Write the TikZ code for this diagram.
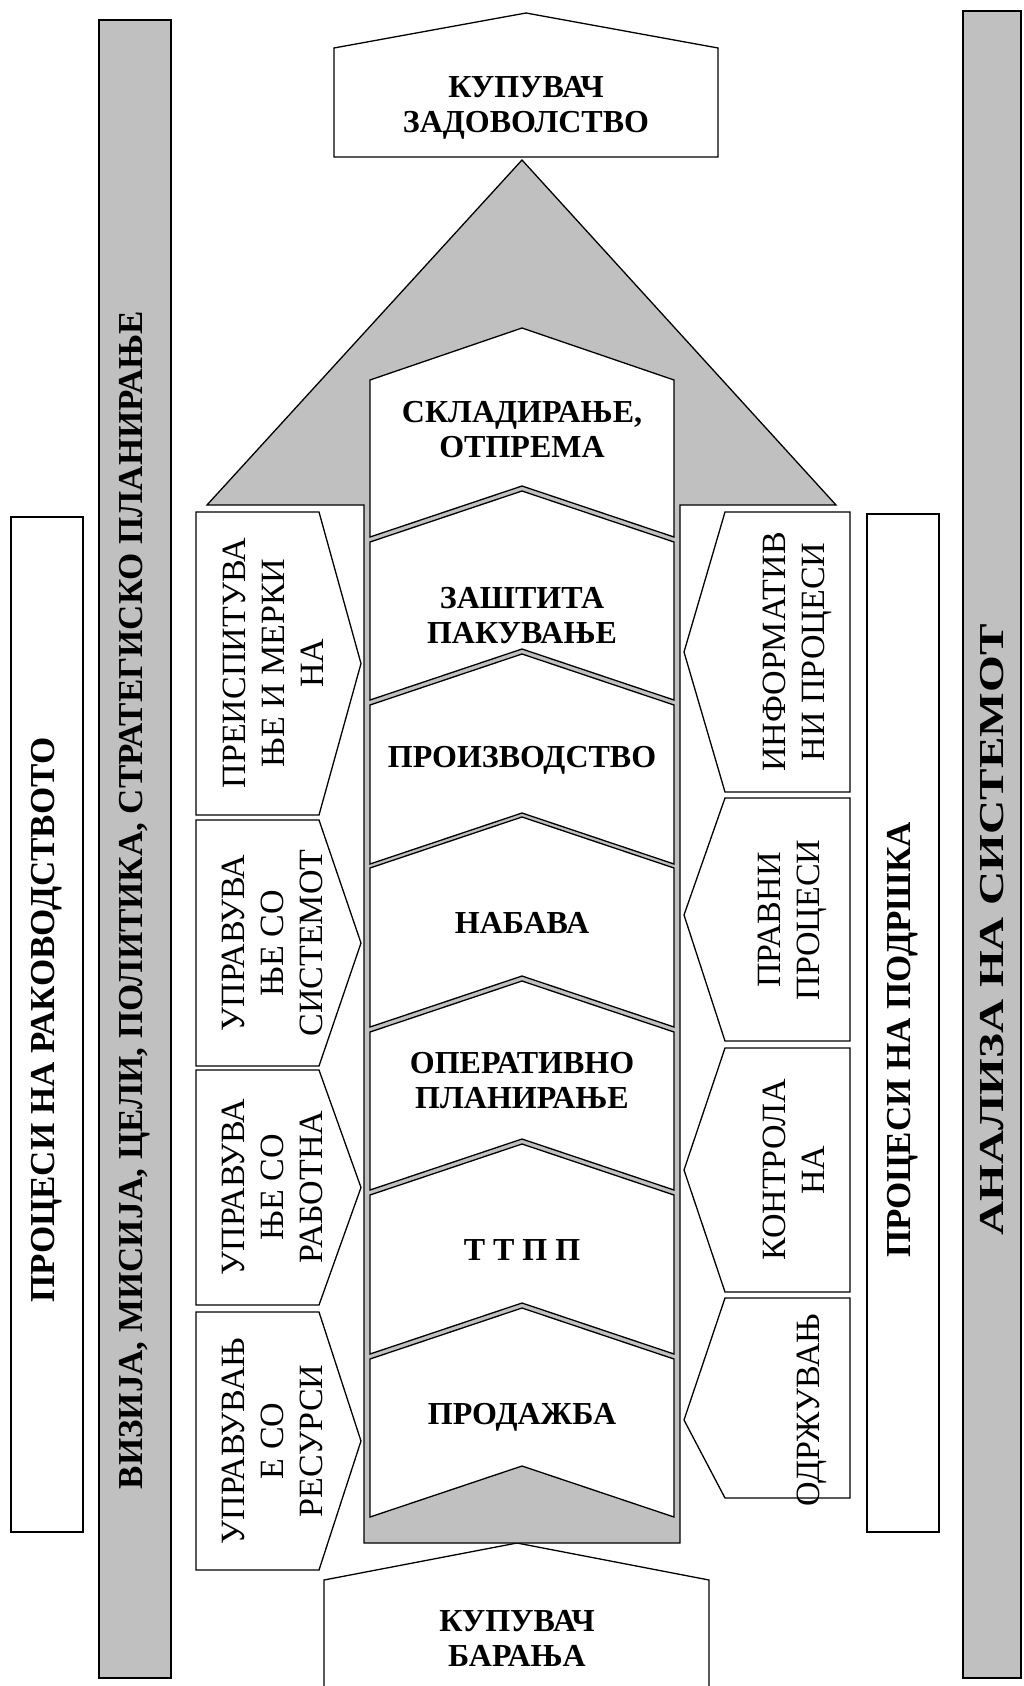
\documentclass[tikz,border=0pt]{standalone}
\usepackage{fontspec}
\setmainfont{Liberation Serif}
\usetikzlibrary{positioning}

\definecolor{panelgrey}{RGB}{192,192,192}
\tikzset{
  outline/.style={draw=black, line width=1.3pt, line join=miter},
  heavyline/.style={draw=black, line width=1.8pt},
  blocktext/.style={font=\bfseries\fontsize{32}{35}\selectfont, align=center, inner sep=0pt},
  bartext/.style={font=\bfseries\fontsize{35}{40}\selectfont, rotate=90, inner sep=0pt},
  arrowtext/.style={font=\fontsize{34}{39}\selectfont, rotate=90, align=center, inner sep=0pt},
}

\begin{document}
\begin{tikzpicture}[x=1pt,y=-1pt]
    \useasboundingbox (0,0) rectangle (1024,1686);

    % Outer bars
    \draw[heavyline, fill=white] (11,517) rectangle (83,1532);
    \node[bartext] (lead) at (47,1020) {ПРОЦЕСИ НА РАКОВОДСТВОТО};
    \draw[heavyline, fill=panelgrey] (99,20) rectangle (171,1678);
    \node[bartext] (vision) at (135,900) {ВИЗИЈА, МИСИЈА, ЦЕЛИ, ПОЛИТИКА, СТРАТЕГИСКО ПЛАНИРАЊЕ};
    \draw[heavyline, fill=white] (867,514) rectangle (939,1532);
    \node[bartext] (support) at (903,1040) {ПРОЦЕСИ НА ПОДРШКА};
    \draw[heavyline, fill=panelgrey] (963,11) rectangle (1021,1678);
    \node[bartext, xscale=1.35] (analysis) at (992,930) {АНАЛИЗА НА СИСТЕМОТ};

    % Customer boxes
    \draw[outline, fill=white] (334,157) -- (334,48) -- (526,13) -- (718,48) -- (718,157) -- cycle;
    \node[blocktext] (goal) at (526,108) {КУПУВАЧ\\ЗАДОВОЛСТВО};
    \draw[outline, fill=white] (324,1700) -- (324,1580) -- (517,1543) -- (709,1580) -- (709,1700);
    \node[blocktext] (need) at (517,1638) {КУПУВАЧ\\БАРАЊА};

    % Big arrow
    \draw[outline, fill=panelgrey] (522,160) -- (836,505) -- (680,505) -- (680,1543)
        -- (364,1543) -- (364,505) -- (207,505) -- cycle;

    % Process chevrons
    \draw[outline, fill=white] (370,380) -- (522,328) -- (674,380) -- (674,537) -- (522,486) -- (370,537) -- cycle;
    \foreach \t/\b in {542/700, 705/864, 868/1027, 1032/1190, 1195/1354, 1359/1517} {
        \draw[outline, fill=white] (370,\t) -- (522,\t-51) -- (674,\t) -- (674,\b) -- (522,\b-51) -- (370,\b) -- cycle;
    }
    \node[blocktext] (store) at (522,430) {СКЛАДИРАЊЕ,\\ОТПРЕМА};
    \node[blocktext] (pack) at (522,616) {ЗАШТИТА\\ПАКУВАЊЕ};
    \node[blocktext] (prod) at (522,760) {ПРОИЗВОДСТВО};
    \node[blocktext] (supply) at (522,923) {НАБАВА};
    \node[blocktext] (plan) at (522,1081) {ОПЕРАТИВНО\\ПЛАНИРАЊЕ};
    \node[blocktext] (ttpp) at (522,1250) {Т Т П П};
    \node[blocktext] (sales) at (522,1417) {ПРОДАЖБА};

    % Management arrows (left)
    \foreach \a/\b in {512/815, 820/1066, 1070/1305, 1312/1570} {
        \draw[outline, fill=white] (196,\a) -- (319,\a) -- (361,{(\a+\b)/2}) -- (319,\b) -- (196,\b) -- cycle;
    }
    \node[arrowtext] (review) at (273,663) {ПРЕИСПИТУВА\\ЊЕ И МЕРКИ\\НА};
    \node[arrowtext] (system) at (272,943) {УПРАВУВА\\ЊЕ СО\\СИСТЕМОТ};
    \node[arrowtext] (work) at (272,1187) {УПРАВУВА\\ЊЕ СО\\РАБОТНА};
    \node[arrowtext] (resource) at (272,1441) {УПРАВУВАЊ\\Е СО\\РЕСУРСИ};

    % Support arrows (right)
    \foreach \a/\m/\b in {512/652/792, 798/915/1041, 1048/1170/1292, 1298/1420/1498} {
        \draw[outline, fill=white] (850,\a) -- (725,\a) -- (684,\m) -- (725,\b) -- (850,\b) -- cycle;
    }
    \node[arrowtext] (info) at (797,652) {ИНФОРМАТИВ\\НИ ПРОЦЕСИ};
    \node[arrowtext] (legal) at (792,920) {ПРАВНИ\\ПРОЦЕСИ};
    \node[arrowtext] (control) at (794,1170) {КОНТРОЛА\\НА};
    \node[arrowtext] (upkeep) at (812,1410) {ОДРЖУВАЊ};
\end{tikzpicture}
\end{document}
